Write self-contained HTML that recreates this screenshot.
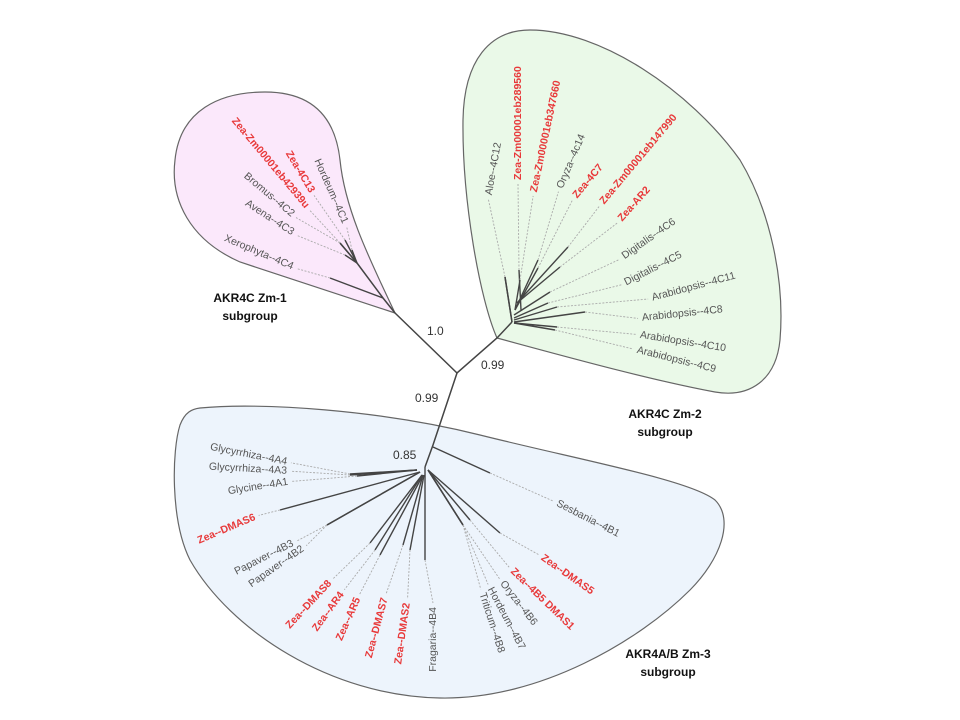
<!DOCTYPE html>
<html><head><meta charset="utf-8"><style>
html,body{margin:0;padding:0;background:#fff;}
svg{display:block;font-family:"Liberation Sans",Arial,sans-serif;}
</style></head><body>
<svg id="s" width="960" height="720" viewBox="0 0 960 720" xmlns="http://www.w3.org/2000/svg">
<path d="M395,313 L240,262 C190,240 170,200 175,160 C180,110 220,92 265,92 C310,92 335,115 340,160 C345,210 370,260 395,313 Z" fill="#fbe8fb" stroke="#666" stroke-width="1.2"/>
<path d="M497,338 C480,300 462,200 463,120 C464,60 490,30 530,30 C600,30 690,90 740,160 C770,210 785,280 780,340 C776,380 750,398 715,392 C650,380 560,355 497,338 Z" fill="#eaf9e8" stroke="#666" stroke-width="1.2"/>
<path d="M200,408 C260,402 380,410 480,435 C580,460 690,480 715,500 C735,520 720,560 690,590 C640,640 540,700 440,698 C330,696 230,630 190,560 C170,520 172,450 180,425 C185,412 192,409 200,408 Z" fill="#edf4fc" stroke="#666" stroke-width="1.2"/>
<g id="tree" stroke="#444" stroke-width="1.5" fill="none">
<polyline points="395,313 457,373 497,338 512,322"/>
<polyline points="457,373 433,445 425,467"/>
<polyline points="395,313 383,298 357,263 340,243"/>
<polyline points="512,322 505,277"/>
</g>
<g font-size="12" fill="#333">
<text x="427" y="335">1.0</text>
<text x="481" y="369">0.99</text>
<text x="415" y="402">0.99</text>
<text x="393" y="459">0.85</text>
</g>
<g font-size="12" font-weight="bold" fill="#111" text-anchor="middle">
<text x="250" y="302">AKR4C Zm-1</text><text x="250" y="320">subgroup</text>
<text x="665" y="418">AKR4C Zm-2</text><text x="665" y="436">subgroup</text>
<text x="668" y="658">AKR4A/B  Zm-3</text><text x="668" y="676">subgroup</text>
</g>
<g id="leaves"></g>
</svg>
<script>
var R="#e8393a",G="#555";
// [label,color,lx,ly,angle,anchor,node x,y, solid end x,y]
var L=[
["Zea-Zm00001eb42939u",R,307,207,50,"end",357,263,340,243],
["Zea-4C13",R,312,192,59,"end",357,263,345,240],
["Hordeum--4C1",G,345,223,66,"end",357,263,352,250],
["Bromus--4C2",G,293,215,40,"end",340,243,340,243],
["Avena--4C3",G,293,233,33,"end",357,263,345,255],
["Xerophyta--4C4",G,293,267,23,"end",383,298,330,278],
["Aloe--4C12",G,489,195,-80,"start",512,322,505,277],
["Zea-Zm00001eb289560",R,518,180,-90,"start",521,310,519,270],
["Zea-Zm00001eb347660",R,534,192,-78,"start",515,310,520,280],
["Oryza--4c14",G,560,188,-67,"start",515,310,538,260],
["Zea-4C7",R,575,197,-50,"start",515,310,538,268],
["Zea-Zm00001eb147990",R,602,203,-50,"start",517,303,568,247],
["Zea-AR2",R,620,220,-48,"start",517,303,560,267],
["Digitalis--4C6",G,623,257,-35,"start",514,315,550,292],
["Digitalis--4C5",G,625,283,-27,"start",514,318,548,303],
["Arabidopsis--4C11",G,652,298,-15,"start",514,320,557,307],
["Arabidopsis--4C8",G,642,318,-6,"start",514,322,585,312],
["Arabidopsis--4C10",G,640,335,9,"start",514,323,557,327],
["Arabidopsis--4C9",G,637,350,14,"start",514,323,555,330],
["Sesbania--4B1",G,557,503,27,"start",433,447,490,473],
["Glycyrrhiza--4A4",G,287,462,11,"end",417,470,350,474],
["Glycyrrhiza--4A3",G,287,471,3,"end",417,470,350,475],
["Glycine--4A1",G,288,482,-9,"end",417,470,357,476],
["Zea--DMAS6",R,255,517,-23,"end",420,472,280,510],
["Papaver--4B3",G,293,543,-27,"end",420,472,327,525],
["Papaver--4B2",G,303,548,-35,"end",420,472,327,525],
["Zea--DMAS8",R,330,582,-47,"end",422,475,370,543],
["Zea--AR4",R,342,593,-54,"end",422,475,375,550],
["Zea--AR5",R,358,598,-66,"end",423,475,380,555],
["Zea--DMAS7",R,385,598,-75,"end",423,475,403,545],
["Zea--DMAS2",R,407,603,-82,"end",424,475,410,550],
["Fragaria--4B4",G,433,607,-90,"end",425,467,425,560],
["Triticum--4B8",G,482,593,72,"start",428,470,463,525],
["Hordeum--4B7",G,490,588,62,"start",428,470,463,525],
["Oryza--4B6",G,502,582,52,"start",428,470,463,525],
["Zea--4B5 DMAS1",R,512,570,44,"start",428,470,470,520],
["Zea--DMAS5",R,542,557,35,"start",428,470,500,533]
];
var g=document.getElementById("leaves"),ns="http://www.w3.org/2000/svg",h="";
L.forEach(function(d){
 var a=d[4]*Math.PI/180, s=d[5]=="start"?1:-1;
 // point just before label, toward root
 var px=d[2]-s*Math.cos(a)*4, py=d[3]-s*Math.sin(a)*4;
 h+='<line x1="'+d[6]+'" y1="'+d[7]+'" x2="'+d[8]+'" y2="'+d[9]+'" stroke="#444" stroke-width="1.4"/>';
 h+='<line x1="'+d[8]+'" y1="'+d[9]+'" x2="'+px+'" y2="'+py+'" stroke="#aaa" stroke-width="0.9" stroke-dasharray="2,1.5"/>';
 h+='<text x="'+d[2]+'" y="'+d[3]+'" font-size="10.5" fill="'+d[1]+'"'+(d[1]==R?' font-weight="bold"':'')+' text-anchor="'+d[5]+'" dominant-baseline="middle" transform="rotate('+d[4]+' '+d[2]+' '+d[3]+')">'+d[0]+'</text>';
});
g.innerHTML=h;
</script>
</body></html>
